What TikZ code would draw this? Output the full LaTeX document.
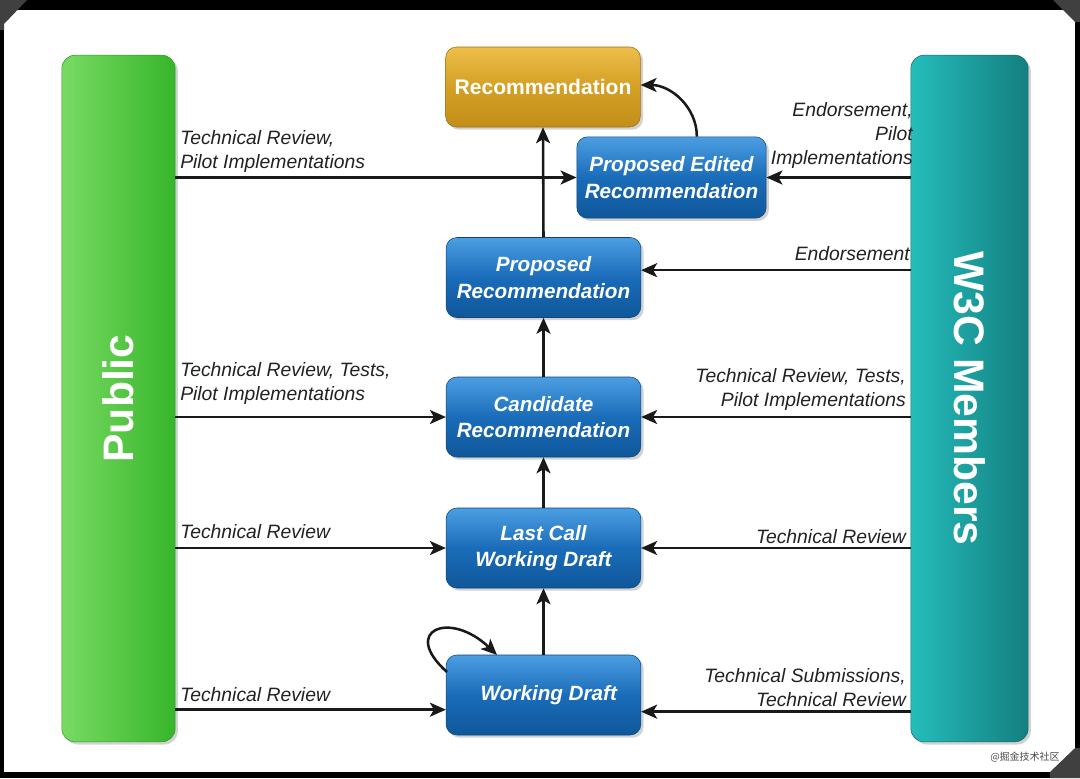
\documentclass[tikz,border=0pt]{standalone}
\usepackage{fontspec}
\setmainfont{Liberation Sans}
\newfontfamily\cjk{Noto Sans CJK SC}
\usetikzlibrary{arrows.meta,shadows,calc}
\definecolor{lblcol}{HTML}{222222}
\tikzset{
  arr/.style={line width=1.9pt, draw=black!90, -{Stealth[length=12pt,width=10.5pt,inset=3pt]}},
  bluebox/.style={rounded corners=8pt, minimum width=146pt, minimum height=60pt,
    top color=blue1, bottom color=blue3, middle color=blue2, draw=blue3!80!black, line width=0.4pt,
    text=white, align=center, font=\fontsize{15.5}{20}\selectfont\bfseries\itshape,
    drop shadow={opacity=0.35, shadow xshift=2pt, shadow yshift=-2pt}},
  goldbox/.style={rounded corners=8pt, minimum width=146pt, minimum height=60pt,
    top color=gold1, bottom color=gold3, middle color=gold2, draw=gold3!80!black, line width=0.4pt,
    text=white, align=center, font=\fontsize{15.8}{20}\selectfont\bfseries,
    drop shadow={opacity=0.35, shadow xshift=2pt, shadow yshift=-2pt}},
  bar/.style={rounded corners=10pt, minimum height=515pt, text=white,
    font=\fontsize{32}{36}\selectfont\bfseries,
    drop shadow={opacity=0.35, shadow xshift=2pt, shadow yshift=-2pt}},
  lbl/.style={text=lblcol, font=\fontsize{14.5}{18}\selectfont\itshape, inner sep=0pt},
}
\definecolor{blue1}{HTML}{4C9EE2}
\definecolor{blue2}{HTML}{1A6CB9}
\definecolor{blue3}{HTML}{0F579A}
\definecolor{gold1}{HTML}{EDBE4A}
\definecolor{gold2}{HTML}{D4A024}
\definecolor{gold3}{HTML}{C28E18}
\definecolor{green1}{HTML}{7ADA64}
\definecolor{green2}{HTML}{36B62A}
\definecolor{teal1}{HTML}{24BDBB}
\definecolor{teal2}{HTML}{147F80}
\begin{document}
\begin{tikzpicture}[x=0.75pt,y=-0.75pt]
\useasboundingbox (0,0) rectangle (1080,778);
% frame
\fill[black] (0,0) rectangle (1080,778);
\fill[white] (4,10) rectangle (1075,772);
\fill[black!75] (0,0) -- (27,0) -- (4,24) -- (4,30) -- (0,30) -- cycle;
\fill[black!75] (1080,0) -- (1053,0) -- (1075,22) -- (1080,22) -- cycle;
\fill[black!75] (1080,778) -- (1080,748) -- (1075,748) -- (1050,772) -- (1050,778) -- cycle;
% bars
\node[bar, minimum width=85pt, left color=green1, right color=green2, draw=green2!85!black, line width=0.4pt] (pub) at (118.5,398.5) {\rotatebox{90}{Public}};
\node[bar, minimum width=88pt, left color=teal1, right color=teal2, draw=teal2!85!black, line width=0.4pt] (w3c) at (969.5,398.5) {\rotatebox{-90}{W3C Members}};
% stage boxes
\node[goldbox] (rec) at (543,87) {Recommendation};
\node[bluebox, minimum width=142pt, minimum height=61pt] (per) at (671.5,177.5) {Proposed Edited\\Recommendation};
\node[bluebox] (pr) at (543.5,277.5) {Proposed\\Recommendation};
\node[bluebox] (cr) at (543.5,417) {Candidate\\Recommendation};
\node[bluebox] (lcwd) at (543.5,548) {Last Call\\Working Draft};
\node[bluebox] (wd) at (543.5,695) {\hspace*{8pt}Working Draft};
% helper coordinates
\coordinate (wdin) at ([yshift=-11pt]wd.west);
\coordinate (wdinr) at ([yshift=-12.5pt]wd.east);
\coordinate (prinr) at ([yshift=5.5pt]pr.east);
\coordinate (perup) at ([xshift=19pt]per.north);
\coordinate (recin) at ([yshift=1.5pt]rec.east);
% vertical arrows
\draw[arr] (wd.north) -- (lcwd.south);
\draw[arr] (lcwd.north) -- (cr.south);
\draw[arr] (cr.north) -- (pr.south);
\draw[arr] (pr.north) -- (rec.south);
\draw[arr] (perup) to[out=90,in=0] (recin);
% self loop
\coordinate (wdl) at (447,672);
\coordinate (wdt) at (497,655);
\draw[arr] (wdl) .. controls (400,630) and (450,610) .. (wdt);
% horizontal arrows from Public
\draw[arr] (pub.east |- per.west) -- (per.west);
\draw[arr] (pub.east |- cr.west) -- (cr.west);
\draw[arr] (pub.east |- lcwd.west) -- (lcwd.west);
\draw[arr] (pub.east |- wdin) -- (wdin);
% horizontal arrows from W3C
\draw[arr] (w3c.west |- per.east) -- (per.east);
\draw[arr] (w3c.west |- prinr) -- (prinr);
\draw[arr] (w3c.west |- cr.east) -- (cr.east);
\draw[arr] (w3c.west |- lcwd.east) -- (lcwd.east);
\draw[arr] (w3c.west |- wdinr) -- (wdinr);
% labels left
\node[lbl, anchor=north west, align=left] (l1) at (180,130) {Technical Review,\\Pilot Implementations};
\node[lbl, anchor=north west, align=left] (l2) at (180,362) {Technical Review, Tests,\\Pilot Implementations};
\node[lbl, anchor=north west] (l3) at (180,524) {Technical Review};
\node[lbl, anchor=north west] (l4) at (180,687) {Technical Review};
% labels right
\node[lbl, anchor=north east, align=right] (r1) at (913,102) {Endorsement,\\Pilot\\Implementations};
\node[lbl, anchor=north east] (r2) at (910,246) {Endorsement};
\node[lbl, anchor=north east, align=right] (r3) at (906,368) {Technical Review, Tests,\\Pilot Implementations};
\node[lbl, anchor=north east] (r4) at (906,529) {Technical Review};
\node[lbl, anchor=north east, align=right] (r5) at (906,668) {Technical Submissions,\\Technical Review};
% watermark
\node[text=black!70, font=\cjk\fontsize{7.5}{9}\selectfont, inner sep=0pt] (wm) at (1025,757) {@掘金技术社区};
\end{tikzpicture}
\end{document}
